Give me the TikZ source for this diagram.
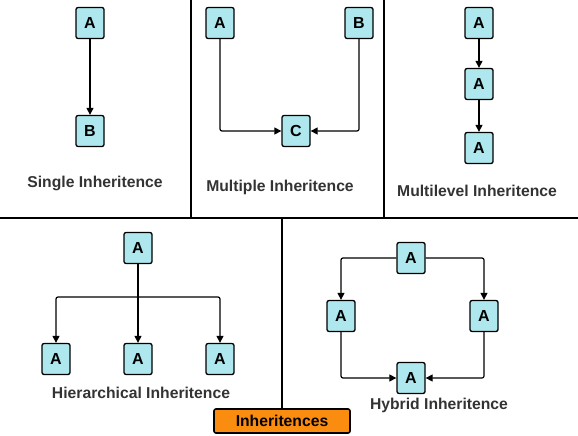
\documentclass[tikz,border=0pt]{standalone}
\usepackage{fontspec}
\setmainfont{Liberation Sans}
\usetikzlibrary{arrows.meta}
\definecolor{boxfill}{HTML}{AEE7EE}
\definecolor{orangefill}{HTML}{FA8C0F}
\definecolor{labelgray}{HTML}{333333}
\begin{document}
\begin{tikzpicture}[x=1pt,y=-1pt,
  cls/.style={draw=black,line width=1.3pt,fill=boxfill,rounded corners=2pt,minimum width=28pt,minimum height=31pt,inner sep=0pt,font=\fontsize{16}{18}\selectfont\bfseries},
  lbl/.style={text=labelgray,font=\fontsize{15.7}{18}\selectfont\bfseries,inner sep=0pt},
  arr/.style={draw=black,line width=1.2pt,-{Triangle[length=7pt,width=7pt]},rounded corners=2pt},
  divider/.style={draw=black,line width=2pt}]
\useasboundingbox (0,0) rectangle (578,436);
% dividers
\coordinate (h1) at (0,218); \coordinate (h2) at (578,218);
\coordinate (v1t) at (191,0); \coordinate (v1b) at (191,218);
\coordinate (v2t) at (384,0); \coordinate (v2b) at (384,218);
\coordinate (v3t) at (282,218); \coordinate (v3b) at (282,410);
\draw[divider] (h1) -- (h2);
\draw[divider] (v1t) -- (v1b);
\draw[divider] (v2t) -- (v2b);
\draw[divider] (v3t) -- (v3b);
% single
\node[cls] (sa) at (90,23) {A};
\node[cls] (sb) at (90,131) {B};
\draw[arr] (sa) -- (sb);
\node[lbl] (sl) at (95,183) {Single Inheritence};
% multiple
\node[cls] (ma) at (220,23) {A};
\node[cls] (mb) at (359,23) {B};
\node[cls] (mc) at (296,131) {C};
\draw[arr] (ma.south) |- (mc.west);
\draw[arr] (mb.south) |- (mc.east);
\node[lbl] (ml) at (280,187) {Multiple Inheritence};
% multilevel
\node[cls] (l1) at (479,23) {A};
\node[cls] (l2) at (479,84) {A};
\node[cls] (l3) at (479,148) {A};
\draw[arr] (l1) -- (l2);
\draw[arr] (l2) -- (l3);
\node[lbl] (ll) at (477,191) {Multilevel Inheritence};
% hierarchical
\node[cls] (h0) at (138,248) {A};
\node[cls] (hl) at (56,359) {A};
\node[cls] (hm) at (138,359) {A};
\node[cls] (hr) at (220,359) {A};
\coordinate (hj) at (138,297);
\draw[arr] (h0) -- (hm);
\draw[arr] (hj) -| (hl.north);
\draw[arr] (hj) -| (hr.north);
\node[lbl] (hlab) at (141,393) {Hierarchical Inheritence};
% hybrid
\node[cls] (y0) at (411,258) {A};
\node[cls] (yl) at (341,316) {A};
\node[cls] (yr) at (484,316) {A};
\node[cls] (yb) at (411,378) {A};
\draw[arr] (y0.west) -| (yl.north);
\draw[arr] (y0.east) -| (yr.north);
\draw[arr] (yl.south) |- (yb.west);
\draw[arr] (yr.south) |- (yb.east);
\node[lbl] (ylab) at (439,405) {Hybrid Inheritence};
% title
\node[draw=black,line width=1.6pt,fill=orangefill,rounded corners=2pt,minimum width=136pt,minimum height=24pt,inner sep=0pt,font=\fontsize{15.7}{18}\selectfont\bfseries] (title) at (282,421) {Inheritences};
\end{tikzpicture}
\end{document}
